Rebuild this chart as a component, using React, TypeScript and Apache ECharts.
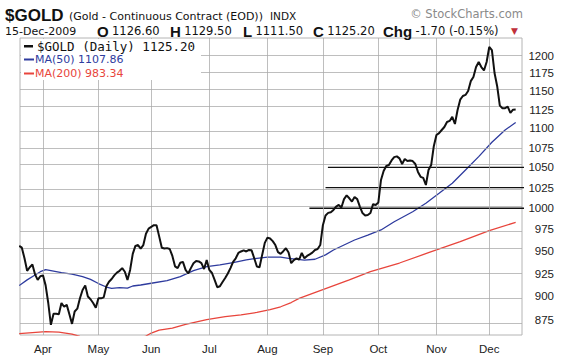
import React, { useEffect, useRef } from "react";
import * as echarts from "echarts";

// Daily closes of $GOLD, 19-Mar-2009 .. 15-Dec-2009 (one per trading day)
const closes = [
  956, 954, 942, 928, 932, 935, 924, 918, 922, 923,
  912, 893, 870, 881.5, 881.5, 881, 893, 889, 891, 881,
  871, 884, 887, 898, 907, 912, 900, 897, 893, 888,
  898, 898, 899, 911, 916, 919, 923, 926, 928, 931,
  927, 918, 929, 947, 956, 957, 953, 957, 970, 976,
  978, 980, 980, 967, 954, 953, 953.5, 952.5, 944.6, 933,
  931, 937, 938, 929, 925, 931, 936.5, 939, 938.5, 936.5,
  930, 940, 929, 925.6, 918, 910, 911, 915.7, 920, 925,
  931, 938, 942, 948, 949.7, 951, 949.7, 951.4, 951, 942,
  932.8, 932, 945.8, 959.5, 965.6, 964.5, 961.5, 957, 949, 947,
  950, 953.4, 948.6, 936.5, 940, 941.8, 940.6, 948, 942, 944.6,
  946.4, 948.4, 951.4, 952.5, 957, 980, 991.5, 994.5, 995.3, 998,
  1002, 1004, 1001, 1011, 1015.5, 1012, 1008, 1013.5, 1011, 1002,
  994.3, 991.5, 992, 994.3, 1005, 1004, 1007, 1034.4, 1045.5, 1051.8,
  1053, 1058.8, 1063, 1064, 1061.4, 1054.3, 1060.6, 1058, 1058.8, 1058,
  1054.3, 1044.4, 1038.3, 1036.9, 1028.2, 1046.8, 1053, 1077, 1091.5, 1094,
  1098, 1102, 1108.6, 1110, 1115.4, 1105.9, 1124.6, 1138.5, 1143.5, 1145,
  1150.5, 1164, 1169.7, 1183.8, 1191, 1183.8, 1179, 1191, 1212.5, 1208,
  1175.4, 1157, 1130.5, 1127, 1127, 1129, 1120.6, 1125, 1125.2,
];

// 50-day moving average (trading-day index, value)
const ma50Days = [0, 3, 6, 8, 10, 12, 16, 20, 24, 27, 30, 33, 35, 38, 41, 43, 46, 50, 56, 61, 66, 71, 76, 81, 86, 90, 94, 99, 102, 108, 112, 116, 119, 123, 127, 132, 137, 142, 149, 154, 159, 164, 169, 174, 179, 184, 188];
const ma50Values = [911.8, 918, 923.4, 927, 929.4, 928.3, 926, 924.4, 921.6, 918.5, 914, 910.2, 908.8, 909.6, 909, 911.3, 912.4, 914.3, 917.1, 921.5, 928.3, 932.6, 934.5, 937.1, 940.1, 942, 943.2, 943.2, 942, 940, 940.9, 945.8, 951.4, 957.1, 962.8, 968.5, 974.4, 984, 995.8, 1006, 1018, 1030.4, 1046.8, 1063.6, 1082, 1098, 1107.86];

// 200-day moving average (trading-day index, value)
const ma200Days = [0, 5, 10, 15, 20, 23, 30, 40, 45, 48, 50, 53, 58, 63, 71, 78, 84, 90, 95, 99, 103, 106, 125, 133, 144, 155, 167, 178, 188];
const ma200Values = [861, 862, 863, 862.5, 860.5, 858, 853, 851, 855, 858.5, 861.5, 864.6, 866.5, 870.5, 875.5, 878.5, 880.5, 883, 886, 889, 893.5, 898, 917.9, 927.1, 936.7, 948.3, 961, 973.6, 983.34];

// Horizontal support / resistance lines
const trendLevels = [1050, 1025, 1000];
const trendStartDays = [116.9, 116.0, 109.9];
const trendEndDay = 194.5;

// Axis ticks
const monthDays = [9, 30, 50, 72, 94, 115, 136, 158, 178];
const monthLabels = ["Apr", "May", "Jun", "Jul", "Aug", "Sep", "Oct", "Nov", "Dec"];
const priceTicks = [875, 900, 925, 950, 975, 1000, 1025, 1050, 1075, 1100, 1125, 1150, 1175, 1200];
const yMin = 859.5;
const yMax = 1225.6;
const xMin = 0.3;
const xMax = 190.4;

const SANS = "'DejaVu Sans', Verdana, sans-serif";
const ARIAL = "'Liberation Sans', Arial, sans-serif";
const MONO = "'DejaVu Sans Mono', monospace";
const GRID = "#a8a8a8";

export default function App() {
  const ref = useRef<HTMLDivElement>(null);

  useEffect(() => {
    if (!ref.current) return;
    const chart = echarts.init(ref.current, undefined, { renderer: "svg" });
    const L = Math.log;
    const lineBase: any = { type: "line", symbol: "none", silent: true, animation: false };

    const headerStat = (k: string, v: string, x: number) => ({
      type: "text",
      x,
      y: 31,
      z: 100,
      style: {
        text: `{b|${k}} {n|${v}}`,
        verticalAlign: "middle",
        rich: {
          b: { fontFamily: ARIAL, fontWeight: "bold", fontSize: 15, fill: "#111", lineHeight: 13 },
          n: { fontFamily: SANS, fontSize: 11.5, fill: "#111", lineHeight: 13 },
        },
      },
    });

    const option: any = {
      animation: false,
      backgroundColor: "#ffffff",
      grid: {
        left: 20,
        right: 54,
        top: 38,
        bottom: 21,
        show: true,
        borderColor: "#b4b4b4",
        borderWidth: 1,
      },
      xAxis: {
        type: "value",
        min: xMin,
        max: xMax,
        axisLine: { show: false },
        axisTick: { show: false },
        axisLabel: {
          customValues: monthDays,
          formatter: (v: number) => monthLabels[monthDays.indexOf(Math.round(v))] ?? "",
          fontFamily: ARIAL,
          fontSize: 11.5,
          color: "#222",
          margin: 8,
        },
        splitLine: { show: false },
      },
      yAxis: {
        type: "value",
        position: "right",
        min: L(yMin),
        max: L(yMax),
        axisLine: { show: false },
        axisTick: { show: false },
        axisLabel: {
          customValues: priceTicks.map(L),
          formatter: (v: number) => String(Math.round(Math.exp(v))),
          fontFamily: ARIAL,
          fontSize: 11.5,
          color: "#222",
          align: "right",
          margin: 32,
        },
        splitLine: { show: false },
      },
      series: [
        {
          ...lineBase,
          name: "MA(200)",
          data: ma200Days.map((d, i) => [d, L(ma200Values[i])]),
          lineStyle: { color: "#e8453c", width: 1.3 },
          z: 2,
          // price-scale and month grid lines, drawn through the axes' scales
          markLine: {
            silent: true,
            animation: false,
            symbol: ["none", "none"],
            label: { show: false },
            lineStyle: { color: GRID, type: "solid", width: 1, opacity: 0.75 },
            emphasis: { disabled: true },
            data: [
              ...priceTicks.map((v) => ({ yAxis: L(v) })),
              ...monthDays.map((d) => ({ xAxis: d })),
            ],
          },
        },
        {
          ...lineBase,
          name: "MA(50)",
          data: ma50Days.map((d, i) => [d, L(ma50Values[i])]),
          lineStyle: { color: "#2e3b9e", width: 1.3 },
          z: 3,
        },
        ...trendLevels.map((lv, k) => ({
          ...lineBase,
          name: "trend" + k,
          clip: false,
          data: [
            [trendStartDays[k], L(lv)],
            [trendEndDay, L(lv)],
          ],
          lineStyle: { color: "#111", width: 1.3 },
          z: 4,
        })),
        {
          ...lineBase,
          name: "$GOLD",
          data: closes.map((v, i) => [i, L(v)]),
          lineStyle: { color: "#111", width: 2 },
          z: 5,
        },
      ],
      graphic: [
        // header row 1
        { type: "text", x: 5, y: 15, z: 100, style: { text: "$GOLD", font: `bold 17px ${ARIAL}`, fill: "#111", verticalAlign: "middle" } },
        { type: "text", x: 69, y: 16, z: 100, style: { text: "(Gold - Continuous Contract (EOD))", font: `11px ${SANS}`, fill: "#111", verticalAlign: "middle" } },
        { type: "text", x: 270, y: 16, z: 100, style: { text: "INDX", font: `10.5px ${SANS}`, fill: "#111", verticalAlign: "middle" } },
        { type: "text", x: 523, y: 14, z: 100, style: { text: "© StockCharts.com", font: `11.5px ${SANS}`, fill: "#8a8a8a", align: "right", verticalAlign: "middle" } },
        // header row 2
        { type: "text", x: 5, y: 31, z: 100, style: { text: "15-Dec-2009", font: `11px ${SANS}`, fill: "#111", verticalAlign: "middle", lineHeight: 13 } },
        headerStat("O", "1126.60", 97),
        headerStat("H", "1129.50", 170),
        headerStat("L", "1111.50", 243),
        headerStat("C", "1125.20", 313),
        headerStat("Chg", "-1.70 (-0.15%)", 383),
        { type: "text", x: 511, y: 31, z: 100, style: { text: "▼", font: `9px ${SANS}`, fill: "#c0303a", verticalAlign: "middle", lineHeight: 11 } },
        // legend box
        { type: "rect", z: 90, shape: { x: 21, y: 39, width: 180, height: 41 }, style: { fill: "#ffffff" } },
        { type: "rect", z: 100, shape: { x: 24, y: 45, width: 9, height: 2.5 }, style: { fill: "#111" } },
        { type: "text", x: 37, y: 46, z: 100, style: { text: "$GOLD (Daily) 1125.20", font: `12.5px ${MONO}`, fill: "#111", verticalAlign: "middle", lineHeight: 12 } },
        { type: "rect", z: 100, shape: { x: 24, y: 58.5, width: 10, height: 2 }, style: { fill: "#2e3b9e" } },
        { type: "text", x: 35, y: 59.5, z: 100, style: { text: "MA(50) 1107.86", font: `11px ${SANS}`, fill: "#2e3b9e", verticalAlign: "middle", lineHeight: 12 } },
        { type: "rect", z: 100, shape: { x: 24, y: 72.5, width: 10, height: 2 }, style: { fill: "#e8453c" } },
        { type: "text", x: 35, y: 73.5, z: 100, style: { text: "MA(200) 983.34", font: `11px ${SANS}`, fill: "#e8453c", verticalAlign: "middle", lineHeight: 12 } },
      ],
    };

    chart.setOption(option);
    return () => chart.dispose();
  }, []);

  return (
    <div
      ref={ref}
      style={{ position: "absolute", left: 0, top: 0, width: 576, height: 356, background: "#fff" }}
    />
  );
}
